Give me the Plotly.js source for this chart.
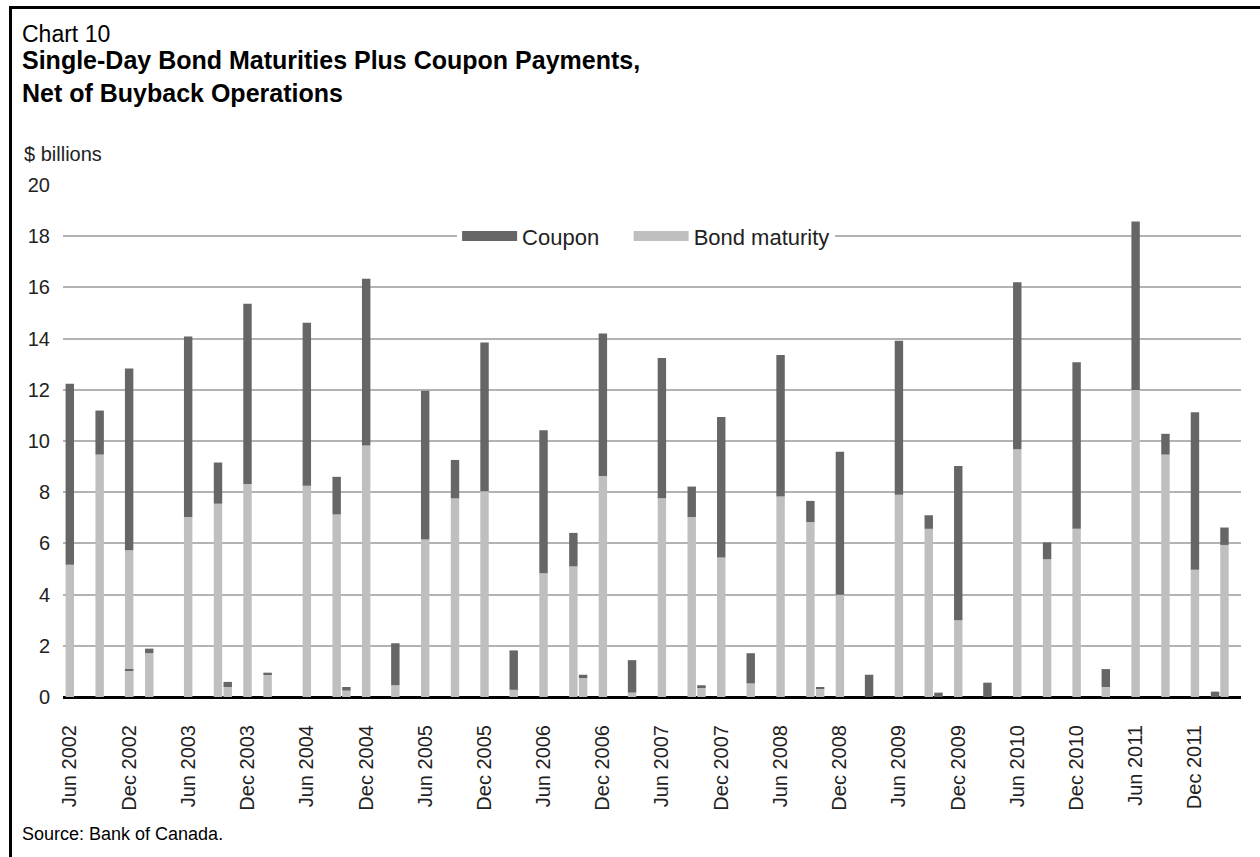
<!DOCTYPE html>
<html>
<head>
<meta charset="utf-8">
<script src="https://cdn.plot.ly/plotly-3.0.1.min.js"></script>
<style>
  html, body { margin: 0; padding: 0; background: #ffffff; }
  #wrap { position: relative; width: 1260px; height: 857px; overflow: hidden; }
  #chart { position: absolute; left: 0; top: 0; width: 1260px; height: 857px; }
  #frame { position: absolute; left: 9px; top: 6px; width: 1260px; height: 860px;
           border-left: 3px solid #000; border-top: 3px solid #000; pointer-events: none; }
</style>
</head>
<body>
<div id="wrap">
  <div id="chart"></div>
  <div id="frame"></div>
</div>
<script>
// Payment dates (month of the event)
const dates = [
  "2002-06-01", "2002-09-01", "2002-12-01", "2002-12-01", "2003-02-01",
  "2003-06-01", "2003-09-01", "2003-10-01", "2003-12-01", "2004-02-01",
  "2004-06-01", "2004-09-01", "2004-10-01", "2004-12-01", "2005-03-01",
  "2005-06-01", "2005-09-01", "2005-12-01", "2006-03-01", "2006-06-01",
  "2006-09-01", "2006-10-01", "2006-12-01", "2007-03-01", "2007-06-01",
  "2007-09-01", "2007-10-01", "2007-12-01", "2008-03-01", "2008-06-01",
  "2008-09-01", "2008-10-01", "2008-12-01", "2009-03-01", "2009-06-01",
  "2009-09-01", "2009-10-01", "2009-12-01", "2010-03-01", "2010-06-01",
  "2010-09-01", "2010-12-01", "2011-03-01", "2011-06-01", "2011-09-01",
  "2011-12-01", "2012-02-01", "2012-03-01"
];
// Bond maturity, $ billions
const bondMaturity = [
  5.17, 9.47, 5.73, 1.02, 1.71,
  7.03, 7.55, 0.39, 8.32, 0.88,
  8.25, 7.13, 0.25, 9.82, 0.46,
  6.15, 7.76, 8.04, 0.28, 4.83,
  5.10, 0.74, 8.63, 0.17, 7.76,
  7.03, 0.39, 5.45, 0.53, 7.83,
  6.83, 0.32, 3.99, 0.00, 7.90,
  6.57, 0.00, 3.00, 0.00, 9.68,
  5.38, 6.57, 0.39, 11.99, 9.47,
  4.97, 0.00, 5.94
];
// Coupon payments, $ billions
const coupon = [
  7.07, 1.72, 7.10, 0.07, 0.18,
  7.05, 1.61, 0.20, 7.04, 0.07,
  6.37, 1.47, 0.14, 6.52, 1.64,
  5.81, 1.50, 5.81, 1.54, 5.59,
  1.31, 0.13, 5.57, 1.27, 5.48,
  1.19, 0.07, 5.49, 1.18, 5.53,
  0.83, 0.07, 5.59, 0.87, 6.02,
  0.53, 0.17, 6.02, 0.56, 6.52,
  0.66, 6.51, 0.70, 6.58, 0.81,
  6.15, 0.21, 0.68
];
const seriesNames = ["Coupon", "Bond maturity"];
const yTicks = [0, 2, 4, 6, 8, 10, 12, 14, 16, 18, 20];

const COUPON_COLOR = "#666666";
const BOND_COLOR = "#bfbfbf";
const DAY = 86400000;
const barWidth = 26 * DAY;
const FONT = "Liberation Sans, Arial, Helvetica, sans-serif";
const NBSP = "\u00a0";

const traces = [
  {
    type: "bar", name: seriesNames[1], x: dates, y: bondMaturity,
    width: barWidth, marker: { color: BOND_COLOR, line: { width: 0 } },
    showlegend: false, hoverinfo: "x+y"
  },
  {
    type: "bar", name: seriesNames[0], x: dates, y: coupon, base: bondMaturity,
    width: barWidth, marker: { color: COUPON_COLOR, line: { width: 0 } },
    showlegend: false, hoverinfo: "x+y"
  },
  // legend entries (wide swatches)
  {
    type: "scatter", mode: "lines", name: seriesNames[0] + NBSP.repeat(4), x: [null], y: [null],
    line: { color: COUPON_COLOR, width: 12 }, showlegend: true, hoverinfo: "skip"
  },
  {
    type: "scatter", mode: "lines", name: seriesNames[1], x: [null], y: [null],
    line: { color: BOND_COLOR, width: 12 }, showlegend: true, hoverinfo: "skip"
  }
];

const layout = {
  width: 1260, height: 857,
  paper_bgcolor: "#ffffff", plot_bgcolor: "#ffffff",
  margin: { l: 63, r: 19, t: 185, b: 160, pad: 0 },
  barmode: "overlay",
  font: { family: FONT, size: 20, color: "#222222" },
  title: {
    text: "<b>Single-Day Bond Maturities Plus Coupon Payments,<br>Net of Buyback Operations</b>",
    font: { family: FONT, size: 25, color: "#000000" },
    x: 22 / 1260, xanchor: "left", xref: "container",
    y: 1 - 69 / 857, yanchor: "top", yref: "container"
  },
  xaxis: {
    type: "date",
    range: ["2002-05-11", "2012-04-21"],
    tick0: "2002-06-01", dtick: "M6", tickformat: "%b %Y",
    tickangle: -90,
    ticks: "outside", ticklen: 19, tickcolor: "rgba(0,0,0,0)",
    tickfont: { family: FONT, size: 20, color: "#222222" },
    showgrid: false, zeroline: false, showline: false
  },
  yaxis: {
    range: [0, 20], tickvals: yTicks,
    ticks: "outside", ticklen: 8, tickcolor: "rgba(0,0,0,0)",
    tickfont: { family: FONT, size: 20, color: "#222222" },
    showgrid: true, gridcolor: "#b3b3b3", gridwidth: 1.5,
    zeroline: true, zerolinecolor: "#000000", zerolinewidth: 2.5,
    showline: false
  },
  legend: {
    orientation: "h", x: 0.495, xanchor: "center", y: 0.9, yanchor: "middle",
    bgcolor: "#ffffff", borderwidth: 0,
    font: { family: FONT, size: 22, color: "#222222" },
    itemwidth: 55
  },
  annotations: [
    {
      text: "Chart 10", xref: "paper", yref: "paper",
      x: (20 - 63) / 1178, y: 1 + (185 - 19) / 512, xanchor: "left", yanchor: "top",
      showarrow: false, font: { family: FONT, size: 23, color: "#000000" }
    },
    {
      text: "$ billions", xref: "paper", yref: "paper",
      x: (22 - 63) / 1178, y: 1 + (185 - 141) / 512, xanchor: "left", yanchor: "top",
      showarrow: false, font: { family: FONT, size: 20, color: "#222222" }
    },
    {
      text: "Source: Bank of Canada.", xref: "paper", yref: "paper",
      x: (20 - 63) / 1178, y: -(822 - 697) / 512, xanchor: "left", yanchor: "top",
      showarrow: false, font: { family: FONT, size: 18, color: "#000000" }
    }
  ]
};

Plotly.newPlot("chart", traces, layout, { displayModeBar: false, responsive: false });
</script>
</body>
</html>
